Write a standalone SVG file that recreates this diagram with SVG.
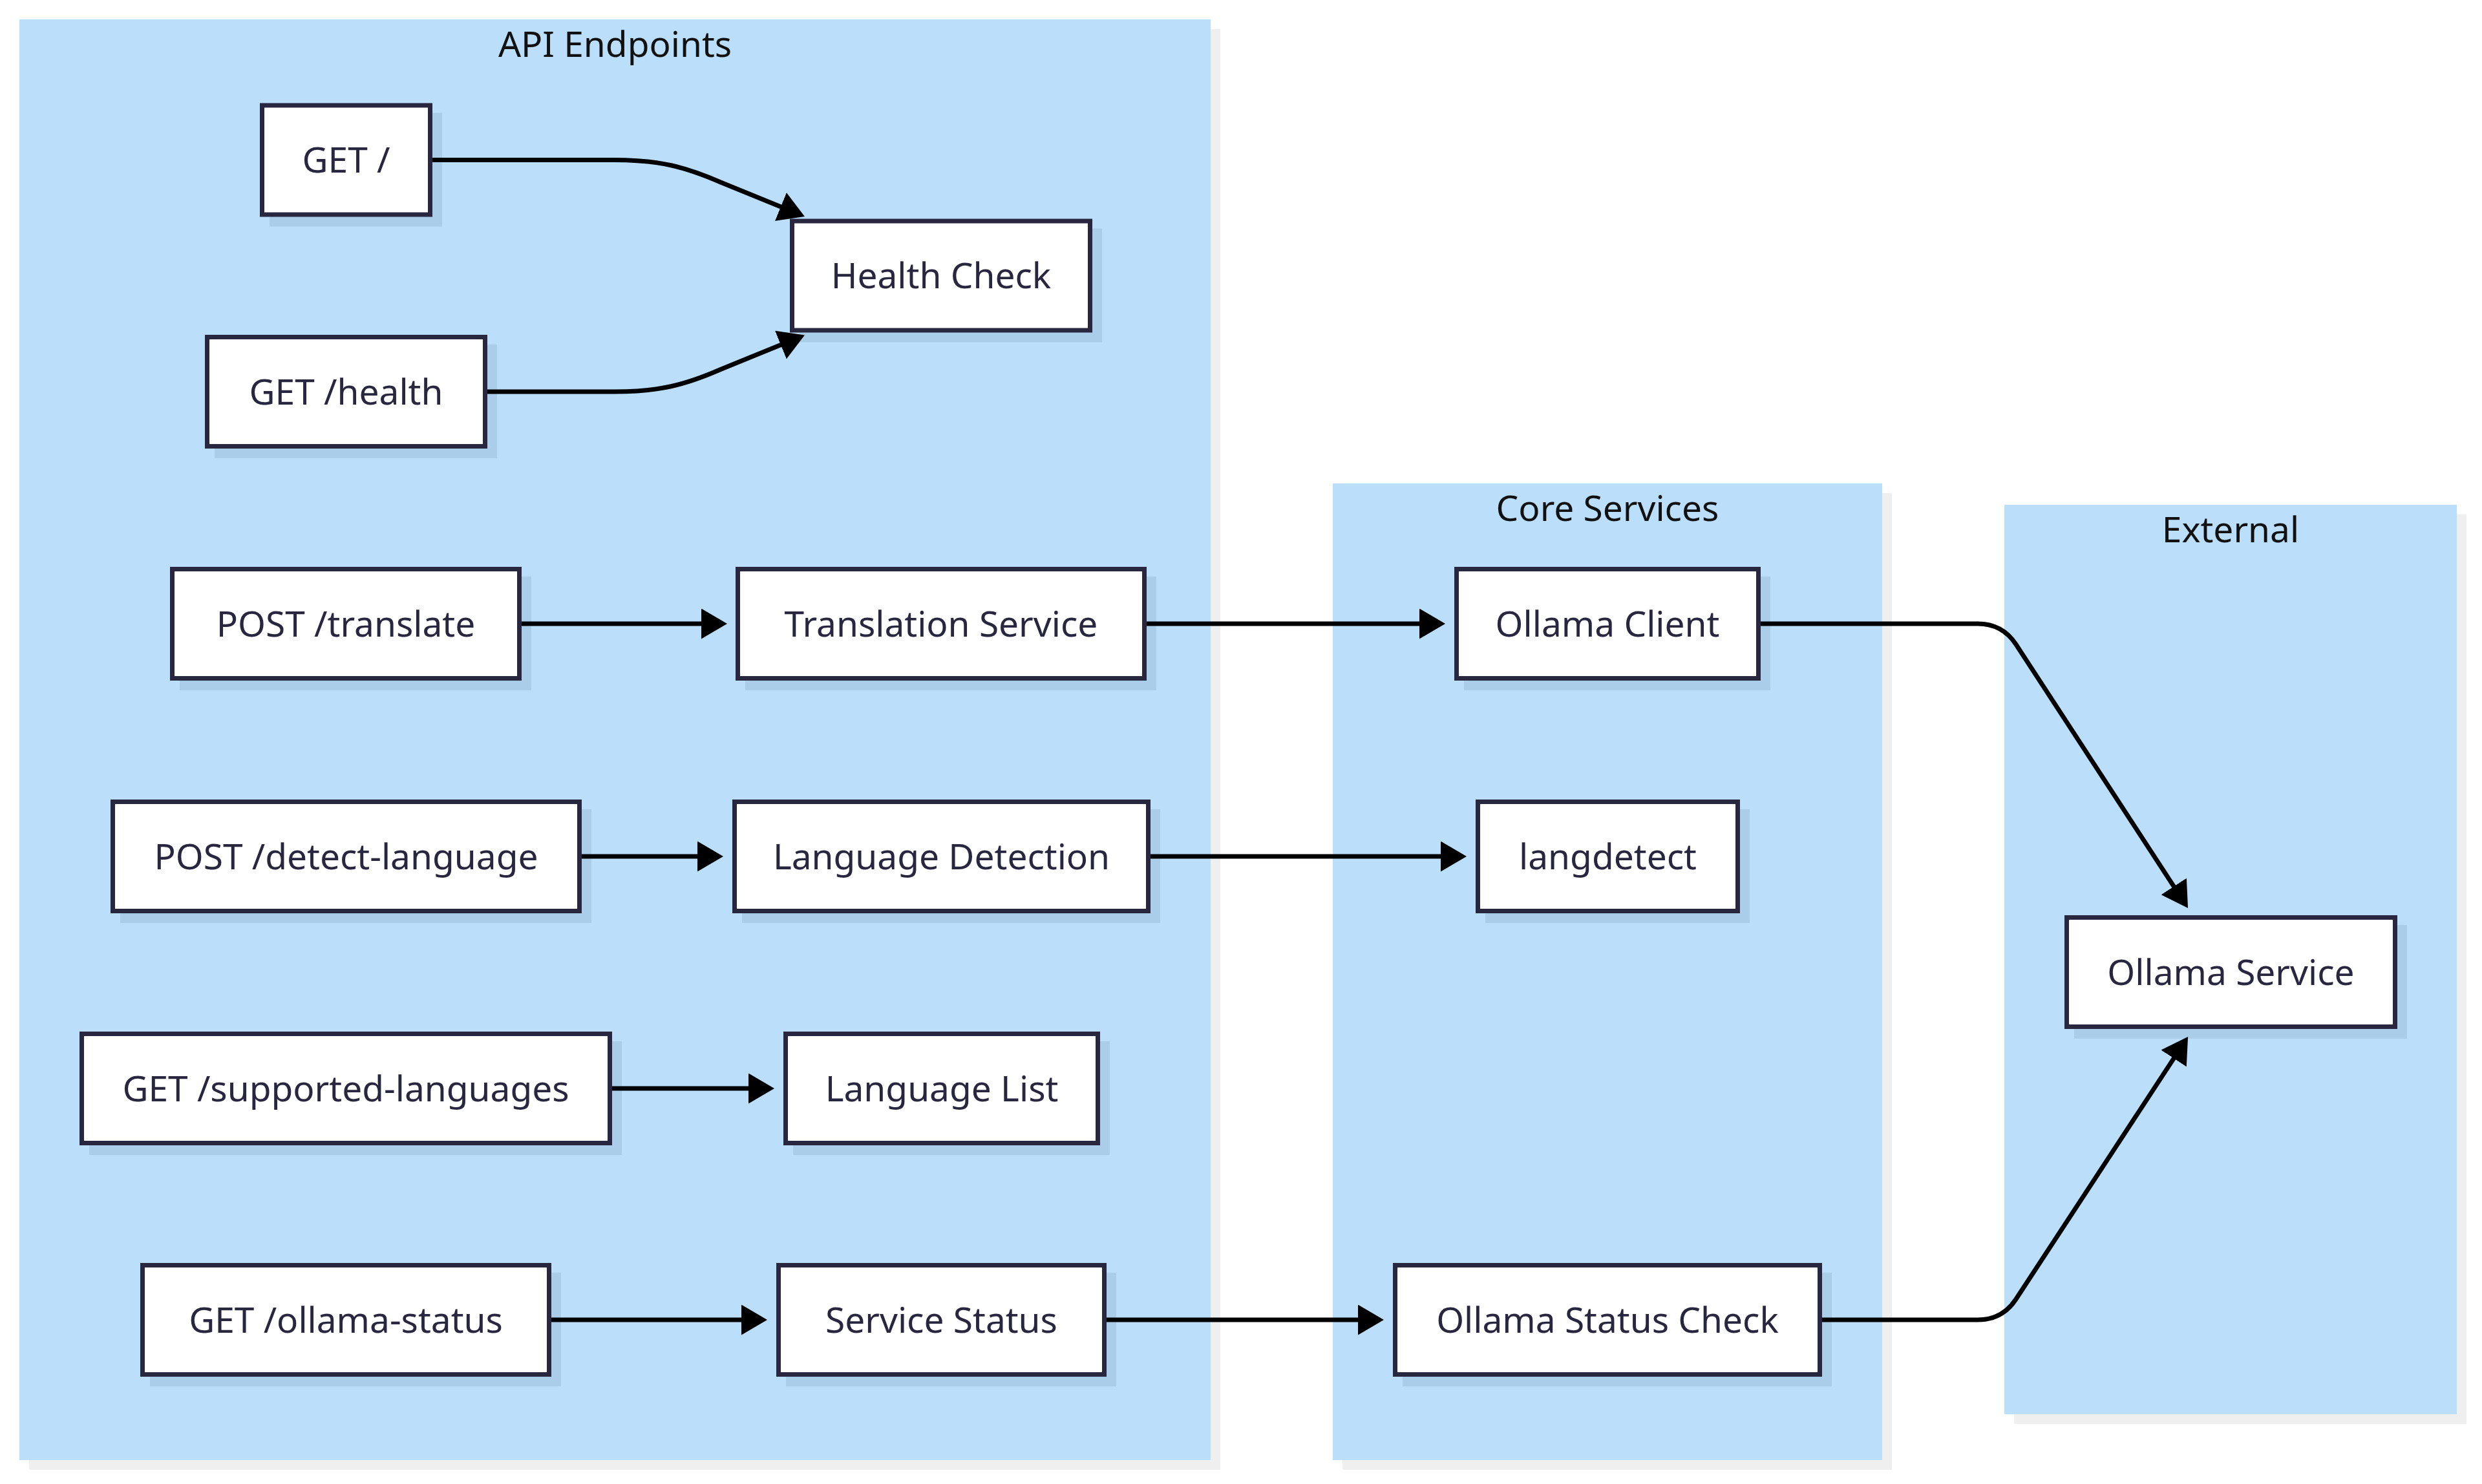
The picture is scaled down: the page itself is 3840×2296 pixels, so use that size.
<svg xmlns="http://www.w3.org/2000/svg" width="3840" height="2296" viewBox="0 0 3840 2296">
<style>
.cl{fill:#bbdefb;}
.cls{fill:#efefef;}
.ct{font-family:"Noto Sans","DejaVu Sans",sans-serif;font-size:55px;fill:#111;text-anchor:middle;}
.nd{fill:#ffffff;stroke:#28273f;stroke-width:7;}
.ns{fill:#aacdea;stroke:#aacdea;stroke-width:7;}
.nt{font-family:"Noto Sans","DejaVu Sans",sans-serif;font-size:55px;fill:#28273f;text-anchor:middle;}
.e{fill:none;stroke:#000;stroke-width:7;marker-end:url(#arr);}
</style>
<defs>
<marker id="arr" markerUnits="userSpaceOnUse" markerWidth="40" markerHeight="47" refX="30" refY="23.5" orient="auto" viewBox="0 0 40 47"><path d="M0,0 L40,23.5 L0,47 z" fill="#000"/></marker>
</defs>
<rect width="3840" height="2296" fill="#ffffff"/>
<g id="clusters">
<g id="cluster-api">
<rect class="cls" x="45" y="45" width="1843" height="2229"/>
<rect class="cl" x="30" y="30" width="1843" height="2229"/>
<text class="ct" x="951.5" y="88">API Endpoints</text>
</g>
<g id="cluster-core">
<rect class="cls" x="2077" y="763" width="850" height="1511"/>
<rect class="cl" x="2062" y="748" width="850" height="1511"/>
<text class="ct" x="2487" y="806">Core Services</text>
</g>
<g id="cluster-external">
<rect class="cls" x="3116" y="796" width="700" height="1407"/>
<rect class="cl" x="3101" y="781" width="700" height="1407"/>
<text class="ct" x="3451" y="839">External</text>
</g>
</g>
<g id="node-get-root">
<rect class="ns" x="420.5" y="178" width="260" height="169"/>
<rect class="nd" x="405.5" y="163" width="260" height="169"/>
<text class="nt" x="535.5" y="267">GET /</text>
</g>
<g id="node-get-health">
<rect class="ns" x="335.5" y="536.5" width="430" height="169"/>
<rect class="nd" x="320.5" y="521.5" width="430" height="169"/>
<text class="nt" x="535.5" y="625.5">GET /health</text>
</g>
<g id="node-post-translate">
<rect class="ns" x="281.5" y="895.5" width="537" height="169"/>
<rect class="nd" x="266.5" y="880.5" width="537" height="169"/>
<text class="nt" x="535" y="984.5">POST /translate</text>
</g>
<g id="node-post-detect">
<rect class="ns" x="189.5" y="1255.5" width="722" height="169"/>
<rect class="nd" x="174.5" y="1240.5" width="722" height="169"/>
<text class="nt" x="535.5" y="1344.5">POST /detect-language</text>
</g>
<g id="node-get-supported">
<rect class="ns" x="141.5" y="1614.5" width="817" height="169"/>
<rect class="nd" x="126.5" y="1599.5" width="817" height="169"/>
<text class="nt" x="535" y="1703.5">GET /supported-languages</text>
</g>
<g id="node-get-ollama-status">
<rect class="ns" x="235.5" y="1972.5" width="629" height="169"/>
<rect class="nd" x="220.5" y="1957.5" width="629" height="169"/>
<text class="nt" x="535" y="2061.5">GET /ollama-status</text>
</g>
<g id="node-health-check">
<rect class="ns" x="1240.5" y="357" width="461" height="169"/>
<rect class="nd" x="1225.5" y="342" width="461" height="169"/>
<text class="nt" x="1456" y="446">Health Check</text>
</g>
<g id="node-translation-service">
<rect class="ns" x="1156.5" y="895.5" width="629" height="169"/>
<rect class="nd" x="1141.5" y="880.5" width="629" height="169"/>
<text class="nt" x="1456" y="984.5">Translation Service</text>
</g>
<g id="node-language-detection">
<rect class="ns" x="1151.5" y="1255.5" width="640" height="169"/>
<rect class="nd" x="1136.5" y="1240.5" width="640" height="169"/>
<text class="nt" x="1456.5" y="1344.5">Language Detection</text>
</g>
<g id="node-language-list">
<rect class="ns" x="1230.5" y="1614.5" width="483" height="169"/>
<rect class="nd" x="1215.5" y="1599.5" width="483" height="169"/>
<text class="nt" x="1457" y="1703.5">Language List</text>
</g>
<g id="node-service-status">
<rect class="ns" x="1219.5" y="1972.5" width="504" height="169"/>
<rect class="nd" x="1204.5" y="1957.5" width="504" height="169"/>
<text class="nt" x="1456.5" y="2061.5">Service Status</text>
</g>
<g id="node-ollama-client">
<rect class="ns" x="2268.5" y="895.5" width="467" height="169"/>
<rect class="nd" x="2253.5" y="880.5" width="467" height="169"/>
<text class="nt" x="2487" y="984.5">Ollama Client</text>
</g>
<g id="node-langdetect">
<rect class="ns" x="2301.5" y="1255.5" width="402" height="169"/>
<rect class="nd" x="2286.5" y="1240.5" width="402" height="169"/>
<text class="nt" x="2487.5" y="1344.5">langdetect</text>
</g>
<g id="node-ollama-status-check">
<rect class="ns" x="2173.5" y="1972.5" width="657" height="169"/>
<rect class="nd" x="2158.5" y="1957.5" width="657" height="169"/>
<text class="nt" x="2487" y="2061.5">Ollama Status Check</text>
</g>
<g id="node-ollama-service">
<rect class="ns" x="3212.5" y="1434.5" width="508" height="169"/>
<rect class="nd" x="3197.5" y="1419.5" width="508" height="169"/>
<text class="nt" x="3451.5" y="1523.5">Ollama Service</text>
</g>
<g id="edges">
<path class="e" d="M669,247.5 L950,247.5 C1020,247.5 1060,258 1115,282 L1235.7,331.2"/>
<path class="e" d="M754,606 L950,606 C1020,606 1060,595.5 1115,571.5 L1235.7,522.3"/>
<path class="e" d="M807,965 L1115,965"/>
<path class="e" d="M900,1325 L1109,1325"/>
<path class="e" d="M947,1684 L1188,1684"/>
<path class="e" d="M853,2042 L1177,2042"/>
<path class="e" d="M1774,965 L2226,965"/>
<path class="e" d="M1780,1325 L2259,1325"/>
<path class="e" d="M1712,2042 L2131,2042"/>
<path class="e" d="M2724,965 L3060,965 Q3098,965 3119,997 L3379.6,1396.6"/>
<path class="e" d="M2819,2042 L3060,2042 Q3098,2042 3119,2010 L3379.6,1612.4"/>
</g>
</svg>
